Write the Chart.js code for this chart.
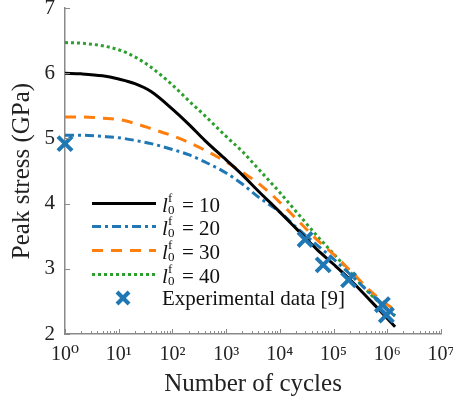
<!DOCTYPE html>
<html>
<head>
<meta charset="utf-8">
<script src="https://cdn.jsdelivr.net/npm/chart.js@4/dist/chart.umd.min.js"></script>
<style>
  html, body { margin: 0; padding: 0; background: #fff; }
  #wrap { position: relative; width: 453px; height: 403px; }
  #legend { position: absolute; left: 88px; top: 190px; font-family: "Liberation Serif", "DejaVu Serif", serif; font-size: 21px; color: #111; }
  .row { position: absolute; left: 0; height: 24px; white-space: nowrap; }
  .row svg { position: absolute; left: 0; top: 0; }
  .row .txt { position: absolute; left: 74px; top: 0px; line-height: 24px; }
  .ell { font-style: italic; }
  .ss { display: inline-block; position: relative; width: 0.42em; height: 1em; }
  .ss .sup { position: absolute; left: 0.02em; top: -0.42em; font-size: 0.62em; }
  .ss .sub { position: absolute; left: 0.02em; top: 0.55em; font-size: 0.62em; }
</style>
</head>
<body>
<div id="wrap">
  <canvas id="c" width="453" height="403"></canvas>
  <div id="legend"></div>
</div>
<script>
// ---- data ----
const cycles = [1, 2, 5, 10, 20, 40, 100, 200, 400, 1000, 2000, 4000, 1e4, 2e4, 5e4, 1e5, 2e5, 5e5, 1e6, 1.4e6];
const stress10 = [6.00, 5.99, 5.96, 5.91, 5.84, 5.72, 5.45, 5.22, 4.97, 4.67, 4.44, 4.19, 3.87, 3.62, 3.29, 3.07, 2.84, 2.50, 2.24, 2.11];
const stress20 = [5.05, 5.05, 5.03, 5.01, 4.97, 4.92, 4.83, 4.75, 4.64, 4.47, 4.30, 4.10, 3.87, 3.64, 3.36, 3.15, 2.92, 2.61, 2.38, 2.27];
const stress30 = [5.33, 5.33, 5.31, 5.29, 5.23, 5.15, 5.04, 4.94, 4.82, 4.64, 4.48, 4.31, 4.02, 3.77, 3.44, 3.22, 2.98, 2.65, 2.45, 2.37];
const stress40 = [6.47, 6.46, 6.42, 6.36, 6.25, 6.09, 5.82, 5.58, 5.35, 5.03, 4.80, 4.53, 4.17, 3.88, 3.50, 3.23, 2.96, 2.60, 2.38, 2.28];
const expCycles = [1, 2.95e4, 6.4e4, 1.9e5, 8.1e5, 9.6e5];
const expStress = [4.92, 3.45, 3.06, 2.83, 2.45, 2.29];
const xTickValues = [1, 10, 100, 1e3, 1e4, 1e5, 1e6, 1e7];
const yTickValues = [2, 3, 4, 5, 6, 7];
const seriesLabels = ['10', '20', '30', '40'];
const expLabel = 'Experimental data [9]';

const colors = ['#000000', '#1f77b4', '#ff7f0e', '#2ca02c'];
const dashes = [[], [9, 4, 3, 4], [11, 8], [3, 3]];
const allSeries = [stress10, stress20, stress30, stress40];

const sup = {'0':'\u2070','1':'\u00b9','2':'\u00b2','3':'\u00b3','4':'\u2074','5':'\u2075','6':'\u2076','7':'\u2077','8':'\u2078','9':'\u2079'};
const FONT = '"Liberation Serif", "DejaVu Serif", serif';
const AX = '#8a8a8a';

const datasets = [{
  type: 'scatter',
  label: expLabel,
  data: expCycles.map((x, i) => ({x, y: expStress[i]})),
  pointStyle: 'crossRot',
  pointRadius: 10,
  pointHoverRadius: 10,
  pointBorderWidth: 4,
  borderColor: colors[1],
  backgroundColor: colors[1],
  showLine: false,
  clip: false,
  order: 0
}];
allSeries.forEach((s, k) => {
  datasets.push({
    type: 'line',
    label: 'l0f = ' + seriesLabels[k],
    data: cycles.map((x, i) => ({x, y: s[i]})),
    borderColor: colors[k],
    borderWidth: 3,
    borderDash: dashes[k],
    borderCapStyle: 'butt',
    pointRadius: 0,
    fill: false,
    cubicInterpolationMode: 'monotone',
    order: 1 + k
  });
});

const tickPlugin = {
  id: 'inwardTicks',
  afterDraw(chart) {
    const ctx = chart.ctx;
    const xs = chart.scales.x, ys = chart.scales.y;
    const a = chart.chartArea;
    ctx.save();
    ctx.strokeStyle = AX;
    ctx.lineWidth = 1;
    ctx.beginPath();
    for (let d = 0; d <= 7; d++) {
      const v = Math.pow(10, d);
      const px = Math.round(xs.getPixelForValue(v)) + 0.5;
      ctx.moveTo(px, a.bottom); ctx.lineTo(px, a.bottom - 5);
      if (d < 7) {
        for (let m = 2; m <= 9; m++) {
          const p2 = Math.round(xs.getPixelForValue(m * v)) + 0.5;
          ctx.moveTo(p2, a.bottom); ctx.lineTo(p2, a.bottom - 3);
        }
      }
    }
    yTickValues.forEach(v => {
      const py = Math.round(ys.getPixelForValue(v)) + 0.5;
      ctx.moveTo(a.left, py); ctx.lineTo(a.left + 5, py);
    });
    ctx.stroke();
    ctx.restore();
  }
};

new Chart(document.getElementById('c'), {
  data: { datasets },
  plugins: [tickPlugin],
  options: {
    responsive: false,
    animation: false,
    events: [],
    layout: { autoPadding: false, padding: { top: 8, right: 12, left: 0, bottom: 0 } },
    plugins: { legend: { display: false }, tooltip: { enabled: false } },
    scales: {
      x: {
        type: 'logarithmic',
        min: 1, max: 1e7,
        afterBuildTicks(s) { s.ticks = xTickValues.map(v => ({value: v})); },
        afterFit(s) { s.height = 69; s.paddingLeft = 0; s.paddingRight = 0; },
        grid: { display: false, drawTicks: false },
        border: { display: true, color: AX, width: 1.5 },
        ticks: {
          autoSkip: false, maxRotation: 0, padding: 9,
          color: '#222',
          font: { family: FONT, size: 20 },
          callback: (v) => '10' + sup[String(Math.round(Math.log10(v)))]
        },
        title: { display: true, text: 'Number of cycles', color: '#222',
          font: { family: FONT, size: 25 }, padding: { top: 0, bottom: 4 } }
      },
      y: {
        type: 'linear',
        min: 2, max: 7,
        afterBuildTicks(s) { s.ticks = yTickValues.map(v => ({value: v})); },
        afterFit(s) { s.width = 65; s.paddingTop = 0; s.paddingBottom = 0; },
        grid: { display: false, drawTicks: false },
        border: { display: true, color: AX, width: 1.5 },
        ticks: { padding: 10, color: '#222', font: { family: FONT, size: 21 } },
        title: { display: true, text: 'Peak stress (GPa)', color: '#222',
          font: { family: FONT, size: 25 }, padding: { top: 7, bottom: 0 } }
      }
    }
  }
});

// ---- legend (HTML overlay) ----
const leg = document.getElementById('legend');
const rowTops = [1, 24, 48, 72, 96];
seriesLabels.forEach((lab, k) => {
  const r = document.createElement('div');
  r.className = 'row';
  r.style.top = rowTops[k] + 'px';
  const da = dashes[k].length ? dashes[k].join(' ') : 'none';
  r.innerHTML = '<svg width="70" height="24"><line x1="4" y1="12.5" x2="68" y2="12.5" stroke="' + colors[k] +
    '" stroke-width="3" stroke-dasharray="' + da + '"/></svg>' +
    '<span class="txt"><span class="ell">l</span><span class="ss"><span class="sup">f</span><span class="sub">0</span></span> = ' + lab + '</span>';
  leg.appendChild(r);
});
const re = document.createElement('div');
re.className = 'row';
re.style.top = rowTops[4] + 'px';
re.innerHTML = '<svg width="70" height="24"><g stroke="' + colors[1] + '" stroke-width="4"><line x1="29" y1="6" x2="41" y2="18"/><line x1="41" y1="6" x2="29" y2="18"/></g></svg>' +
  '<span class="txt">' + expLabel + '</span>';
leg.appendChild(re);
</script>
</body>
</html>
